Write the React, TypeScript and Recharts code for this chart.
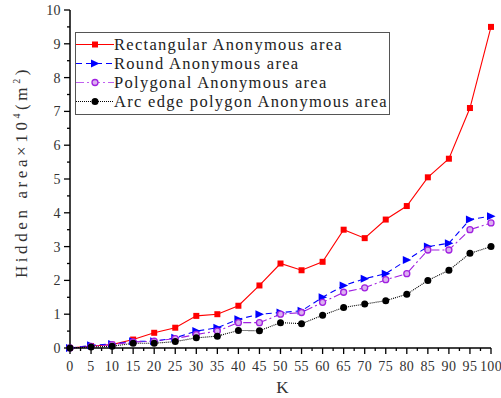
import React from "react";
import { Legend, Line, LineChart, XAxis, YAxis } from "recharts";

// K values and hidden area (x10^4 m^2) per anonymous-area shape
const kValues = [0, 5, 10, 15, 20, 25, 30, 35, 40, 45, 50, 55, 60, 65, 70, 75, 80, 85, 90, 95, 100];
const rectangular = [0, 0.06, 0.1, 0.25, 0.45, 0.6, 0.95, 1.0, 1.25, 1.85, 2.5, 2.3, 2.55, 3.5, 3.25, 3.8, 4.2, 5.05, 5.6, 7.1, 9.5];
const round = [0, 0.08, 0.12, 0.2, 0.2, 0.3, 0.5, 0.6, 0.85, 1.0, 1.05, 1.1, 1.5, 1.85, 2.05, 2.2, 2.6, 3.0, 3.1, 3.8, 3.9];
const polygonal = [0, 0.05, 0.1, 0.18, 0.2, 0.28, 0.4, 0.5, 0.75, 0.75, 1.0, 1.05, 1.35, 1.65, 1.78, 2.02, 2.2, 2.9, 2.9, 3.5, 3.7];
const arcEdge = [0, 0.03, 0.05, 0.14, 0.14, 0.19, 0.3, 0.35, 0.52, 0.51, 0.75, 0.72, 0.97, 1.2, 1.3, 1.4, 1.59, 2.0, 2.3, 2.8, 3.0];

const xTicks = [0, 2.5, 5, 7.5, 10, 12.5, 15, 17.5, 20, 22.5, 25, 27.5, 30, 32.5, 35, 37.5, 40, 42.5, 45, 47.5, 50,
  52.5, 55, 57.5, 60, 62.5, 65, 67.5, 70, 72.5, 75, 77.5, 80, 82.5, 85, 87.5, 90, 92.5, 95, 97.5, 100];
const yTicks = [0, 0.5, 1, 1.5, 2, 2.5, 3, 3.5, 4, 4.5, 5, 5.5, 6, 6.5, 7, 7.5, 8, 8.5, 9, 9.5, 10];

const data = kValues.map((k, i) => ({
  k,
  rect: rectangular[i],
  round: round[i],
  poly: polygonal[i],
  arc: arcEdge[i]
}));

const FONT = '"Liberation Serif", "DejaVu Serif", serif';

type MarkerKind = "square" | "triangle" | "ring" | "dot";

function Marker({ kind, cx, cy, color }: { kind: MarkerKind; cx: number; cy: number; color: string }) {
  if (kind === "square") return <rect x={cx - 3} y={cy - 3} width={6} height={6} fill={color} />;
  if (kind === "triangle")
    return <path d={`M${cx - 4},${cy - 4} L${cx + 4.5},${cy} L${cx - 4},${cy + 4} Z`} fill={color} />;
  if (kind === "ring") return <circle cx={cx} cy={cy} r={3} fill="#dcb0f0" stroke={color} strokeWidth={1.3} />;
  return <circle cx={cx} cy={cy} r={3.5} fill={color} />;
}

const series = [
  { key: "rect", name: "Rectangular Anonymous area", color: "#ff0000", dash: undefined, legendColor: "#ff0000", marker: "square" as MarkerKind },
  { key: "round", name: "Round Anonymous area", color: "#0000ff", dash: "6 4", legendColor: "#0000ff", marker: "triangle" as MarkerKind },
  { key: "poly", name: "Polygonal Anonymous area", color: "#a020e0", dash: "8 3 2 3", legendColor: "#c060f0", marker: "ring" as MarkerKind },
  { key: "arc", name: "Arc edge polygon Anonymous area", color: "#000000", dash: "1 1", legendColor: "#000000", marker: "dot" as MarkerKind }
];

function XTick(props: any) {
  const { x, y, payload } = props;
  const major = payload.value % 5 === 0;
  return (
    <g>
      <line x1={x} x2={x} y1={y} y2={y + (major ? 6 : 3)} stroke="#000" strokeWidth={1.3} />
      {major && (
        <text x={x} y={y + 23} textAnchor="middle" fontFamily={FONT} fontSize={14} fill="#333" letterSpacing={0.4}>
          {payload.value}
        </text>
      )}
    </g>
  );
}

function YTick(props: any) {
  const { x, y, payload } = props;
  const major = Number.isInteger(payload.value);
  return (
    <g>
      <line x1={x} x2={x - (major ? 6 : 3)} y1={y} y2={y} stroke="#000" strokeWidth={1.3} />
      {major && (
        <text x={x - 9} y={y + 5} textAnchor="end" fontFamily={FONT} fontSize={14} fill="#333" letterSpacing={0.4}>
          {payload.value}
        </text>
      )}
    </g>
  );
}

function YLabel(props: any) {
  const { viewBox } = props;
  const cx = viewBox.x + 27;
  const cy = viewBox.y + viewBox.height / 2 - 7;
  return (
    <text x={cx} y={cy} transform={`rotate(-90 ${cx} ${cy})`} textAnchor="middle" fontFamily={FONT} fontSize={17} fill="#333" letterSpacing={3.6}>
      Hidden area×10
      <tspan fontSize={10} dy={-7}>4</tspan>
      <tspan dy={7}>(m</tspan>
      <tspan fontSize={10} dy={-7}>2</tspan>
      <tspan dy={7}>)</tspan>
    </text>
  );
}

function XLabel(props: any) {
  const { viewBox } = props;
  return (
    <text x={viewBox.x + viewBox.width / 2 + 2} y={viewBox.y + 45} textAnchor="middle" fontFamily={FONT} fontSize={17} fill="#333">
      K
    </text>
  );
}

function LegendBox() {
  return (
    <div
      style={{
        border: "1.5px solid #555",
        background: "#fff",
        padding: "2px 0 3px 0",
        width: 315,
        boxSizing: "border-box"
      }}
    >
      {series.map((s) => (
        <div key={s.key} style={{ display: "flex", alignItems: "center", height: 19 }}>
          <svg width={38} height={19} style={{ flex: "none" }}>
            <line x1={0} x2={38} y1={9.5} y2={9.5} stroke={s.legendColor} strokeWidth={1.2} strokeDasharray={s.dash} />
            <Marker kind={s.marker} cx={19} cy={9.5} color={s.color} />
          </svg>
          <span style={{ fontFamily: FONT, fontSize: 16.5, letterSpacing: 1.3, color: "#222", whiteSpace: "nowrap", lineHeight: "19px" }}>
            {s.name}
          </span>
        </div>
      ))}
    </div>
  );
}

export default function App() {
  return (
    <div style={{ position: "absolute", left: 0, top: 0, width: 501, height: 398, background: "#fff" }}>
      <LineChart width={501} height={398} data={data} margin={{ top: 10, right: 10, left: 0, bottom: 0 }}>
        <XAxis
          dataKey="k"
          type="number"
          domain={[0, 100]}
          ticks={xTicks}
          interval={0}
          height={50}
          tickSize={0}
          tickMargin={0}
          tickLine={false}
          tick={<XTick />}
          axisLine={{ stroke: "#000", strokeWidth: 1.5 }}
          label={<XLabel />}
        />
        <YAxis
          type="number"
          domain={[0, 10]}
          ticks={yTicks}
          interval={0}
          width={70}
          tickSize={0}
          tickMargin={0}
          tickLine={false}
          tick={<YTick />}
          axisLine={{ stroke: "#000", strokeWidth: 1.5 }}
          label={<YLabel />}
        />
        <Legend
          layout="vertical"
          align="center"
          verticalAlign="middle"
          wrapperStyle={{ left: 75, top: 32, width: 315 }}
          content={() => <LegendBox />}
        />
        {series.map((s) => (
          <Line
            key={s.key}
            dataKey={s.key}
            name={s.name}
            type="linear"
            stroke={s.color}
            strokeWidth={1.1}
            strokeDasharray={s.dash}
            isAnimationActive={false}
            dot={(p: any) => <Marker key={`${s.key}-${p.index}`} kind={s.marker} cx={p.cx} cy={p.cy} color={s.color} />}
            activeDot={false}
          />
        ))}
      </LineChart>
    </div>
  );
}
